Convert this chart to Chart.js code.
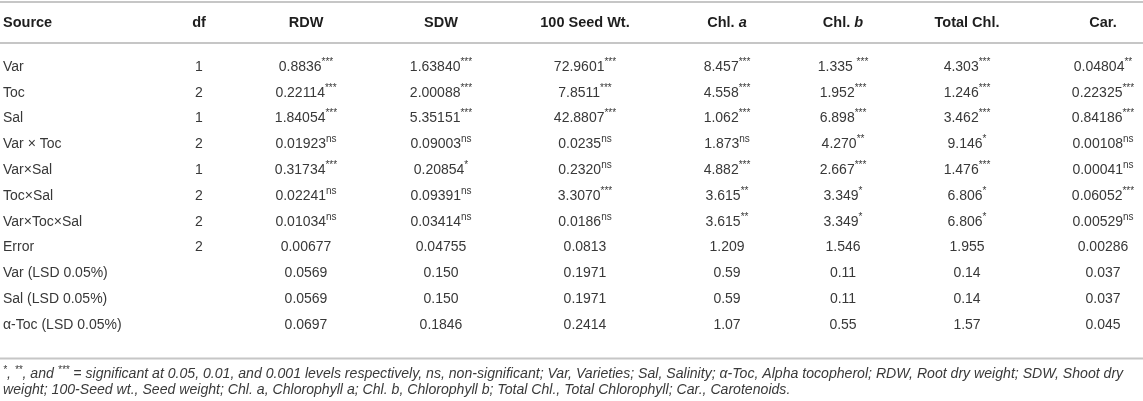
<!DOCTYPE html>
<html>
<head>
<meta charset="utf-8">
<script src="https://cdn.jsdelivr.net/npm/chart.js@4.4.0/dist/chart.umd.min.js"></script>
<style>
  html, body { margin: 0; padding: 0; background: #fff; }
  #wrap { width: 1143px; height: 401px; }
</style>
</head>
<body>
<div id="wrap"><canvas id="tbl" width="1143" height="401"></canvas></div>
<script>
// table content
const headers = ['Source', 'df', 'RDW', 'SDW', '100 Seed Wt.', 'Chl. |a', 'Chl. |b', 'Total Chl.', 'Car.']
const sources = ['Var', 'Toc', 'Sal', 'Var \u00d7 Toc', 'Var\u00d7Sal', 'Toc\u00d7Sal', 'Var\u00d7Toc\u00d7Sal', 'Error',
    'Var (LSD 0.05%)', 'Sal (LSD 0.05%)', '\u03b1-Toc (LSD 0.05%)']
const df = ['1', '2', '1', '2', '1', '2', '2', '2', '', '', '']

const rdw = ['0.8836', '0.22114', '1.84054', '0.01923', '0.31734', '0.02241', '0.01034', '0.00677', '0.0569', '0.0569', '0.0697']
const rdwSig = ['***', '***', '***', 'ns', '***', 'ns', 'ns', '', '', '', '']
const sdw = ['1.63840', '2.00088', '5.35151', '0.09003', '0.20854', '0.09391', '0.03414', '0.04755', '0.150', '0.150', '0.1846']
const sdwSig = ['***', '***', '***', 'ns', '*', 'ns', 'ns', '', '', '', '']
const seedWt = ['72.9601', '7.8511', '42.8807', '0.0235', '0.2320', '3.3070', '0.0186', '0.0813', '0.1971', '0.1971', '0.2414']
const seedWtSig = ['***', '***', '***', 'ns', 'ns', '***', 'ns', '', '', '', '']
const chlA = ['8.457', '4.558', '1.062', '1.873', '4.882', '3.615', '3.615', '1.209', '0.59', '0.59', '1.07']
const chlASig = ['***', '***', '***', 'ns', '***', '**', '**', '', '', '', '']
const chlB = ['1.335 ', '1.952', '6.898', '4.270', '2.667', '3.349', '3.349', '1.546', '0.11', '0.11', '0.55']
const chlBSig = ['***', '***', '***', '**', '***', '*', '*', '', '', '', '']
const totalChl = ['4.303', '1.246', '3.462', '9.146', '1.476', '6.806', '6.806', '1.955', '0.14', '0.14', '1.57']
const totalChlSig = ['***', '***', '***', '*', '***', '*', '*', '', '', '', '']
const car = ['0.04804', '0.22325', '0.84186', '0.00108', '0.00041', '0.06052', '0.00529', '0.00286', '0.037', '0.037', '0.045']
const carSig = ['**', '***', '***', 'ns', 'ns', '***', 'ns', '', '', '', '']

// footnote, "^" marks a superscript run
const footnotes = [
    '^*|, |^**|, and |^***| = significant at 0.05, 0.01, and 0.001 levels respectively, ns, non-significant; Var, Varieties; Sal, Salinity; \u03b1-Toc, Alpha tocopherol; RDW, Root dry weight; SDW, Shoot dry',
    'weight; 100-Seed wt., Seed weight; Chl. a, Chlorophyll a; Chl. b, Chlorophyll b; Total Chl., Total Chlorophyll; Car., Carotenoids.'
]

// layout (x in px along the canvas, y in row units)
const PITCH = 25.8
const FIRST_ROW_PX = 67
const colX = [3, 199, 306, 441, 585, 727, 843, 967, 1103]
const HEADER_ROW = -1.705
const RULES = [-2.52, -0.93, 11.3]
const NOTE_ROWS = [11.92, 12.52]
const FONT = '"Liberation Sans", Arial, Helvetica, sans-serif'

const columns = [
    [sources, null], [df, null], [rdw, rdwSig], [sdw, sdwSig], [seedWt, seedWtSig],
    [chlA, chlASig], [chlB, chlBSig], [totalChl, totalChlSig], [car, carSig]
]

const cells = []
columns.forEach(([vals, sig], c) => {
    vals.forEach((v, r) => {
        cells.push({x: colX[c], y: r, text: v, sup: sig ? sig[r] : '', left: c === 0})
    })
})
const headCells = headers.map((h, c) => ({x: colX[c], y: HEADER_ROW, text: h, left: c === 0}))
const noteCells = footnotes.map((t, i) => ({x: 3, y: NOTE_ROWS[i], text: t}))

const ruleSets = RULES.map(y => ({
    type: 'line',
    data: [{x: 0, y: y}, {x: 1143, y: y}],
    borderColor: '#c6c6c6',
    borderWidth: 2,
    pointRadius: 0,
    showLine: true
}))

function drawCell(ctx, el, d, kind) {
    const y = el.y
    if (kind === 'note') {
        let x = el.x
        d.text.split('|').forEach(seg => {
            if (seg.startsWith('^')) {
                ctx.font = 'italic 10px ' + FONT
                ctx.fillText(seg.slice(1), x, y - 4)
                x += ctx.measureText(seg.slice(1)).width
            } else {
                ctx.font = 'italic 14.1px ' + FONT
                ctx.fillText(seg, x, y)
                x += ctx.measureText(seg).width
            }
        })
        return
    }
    if (kind === 'head') {
        const parts = d.text.split('|')
        ctx.font = 'bold 14.5px ' + FONT
        const w0 = ctx.measureText(parts[0]).width
        ctx.font = 'italic bold 14.5px ' + FONT
        const w1 = parts[1] ? ctx.measureText(parts[1]).width : 0
        let x = d.left ? el.x : el.x - (w0 + w1) / 2
        ctx.font = 'bold 14.5px ' + FONT
        ctx.fillText(parts[0], x, y)
        if (parts[1]) {
            ctx.font = 'italic bold 14.5px ' + FONT
            ctx.fillText(parts[1], x + w0, y)
        }
        return
    }
    ctx.font = '14px ' + FONT
    const w0 = ctx.measureText(d.text).width
    ctx.font = '10px ' + FONT
    const w1 = d.sup ? ctx.measureText(d.sup).width : 0
    const x = d.left ? el.x : el.x - (w0 + w1) / 2
    ctx.font = '14px ' + FONT
    ctx.fillText(d.text, x, y)
    if (d.sup) {
        ctx.font = '10px ' + FONT
        ctx.fillText(d.sup, x + w0, y - 5)
    }
}

const tableText = {
    id: 'tableText',
    afterDatasetsDraw(chart) {
        const ctx = chart.ctx
        ctx.save()
        ctx.textBaseline = 'middle'
        ctx.textAlign = 'left'
        chart.data.datasets.forEach((ds, i) => {
            if (!ds.kind) return
            ctx.fillStyle = ds.kind === 'head' ? '#1e1e1e' : (ds.kind === 'note' ? '#3a3a3a' : '#383838')
            chart.getDatasetMeta(i).data.forEach((el, j) => drawCell(ctx, el, ds.data[j], ds.kind))
        })
        ctx.restore()
    }
}

new Chart(document.getElementById('tbl'), {
    type: 'scatter',
    data: {
        datasets: [
            ...ruleSets,
            {kind: 'head', data: headCells, pointRadius: 0},
            {kind: 'cell', data: cells, pointRadius: 0},
            {kind: 'note', data: noteCells, pointRadius: 0}
        ]
    },
    options: {
        responsive: false,
        animation: false,
        layout: {padding: 0},
        plugins: {legend: {display: false}, tooltip: {enabled: false}},
        events: [],
        scales: {
            x: {type: 'linear', display: false, min: 0, max: 1143},
            y: {type: 'linear', display: false, reverse: true,
                min: -FIRST_ROW_PX / PITCH, max: (401 - FIRST_ROW_PX) / PITCH}
        }
    },
    plugins: [tableText]
})
</script>
</body>
</html>
